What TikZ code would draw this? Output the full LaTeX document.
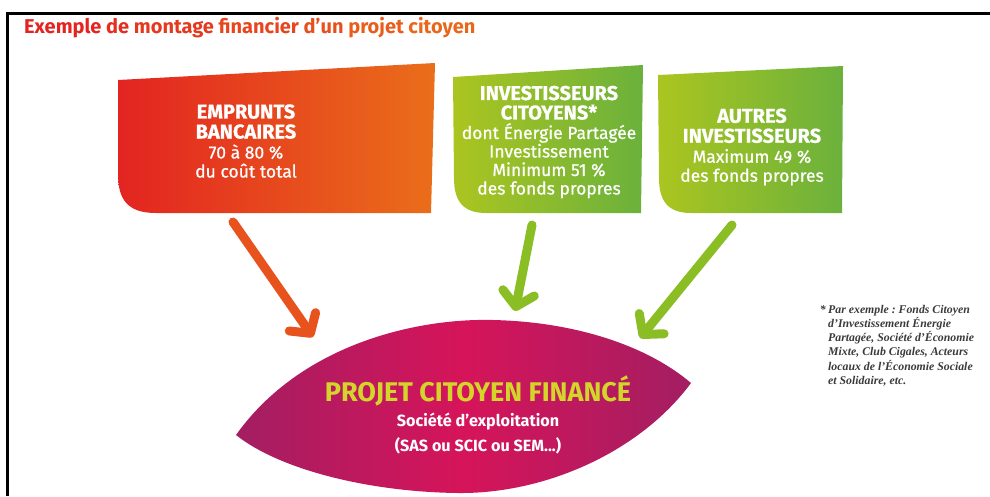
\documentclass[tikz,border=0pt]{standalone}
\usepackage{fontspec}
\setmainfont{Fira Sans}
\newfontfamily\bodyfont{Fira Sans}[FakeBold=0.7]
\newfontfamily\notefont{Liberation Serif}
\usetikzlibrary{arrows.meta, positioning}
\definecolor{bankred}{HTML}{E32421}
\definecolor{bankorange}{HTML}{EA6E1A}
\definecolor{limegreen}{HTML}{ABC520}
\definecolor{leafgreen}{HTML}{6BB13C}
\definecolor{lensedge}{HTML}{A31E62}
\definecolor{lensmid}{HTML}{D6145A}
\definecolor{lenstitle}{HTML}{D4D52A}
\definecolor{arroworange}{HTML}{E8521D}
\definecolor{arrowgreen}{HTML}{8BBE25}
\definecolor{notegray}{HTML}{3A3A3A}
\newcommand{\hd}{\fontsize{20}{21}\selectfont\bfseries}
\frenchspacing

\begin{document}
\begin{tikzpicture}[
  x=1pt, y=-1pt,
  boxtext/.style={text=white, align=center, inner sep=0pt,
                  font=\bodyfont\fontsize{17.5}{19}\selectfont},
  flow/.style={line width=9pt, line cap=round,
               -{Straight Barb[length=14pt, width=32pt, round]}},
  note/.style={text=notegray, align=left, inner sep=0pt,
               font=\notefont\bfseries\itshape\fontsize{11.8}{14.2}\selectfont},
]
\useasboundingbox (0,0) rectangle (990,496);

% Frame and title
\draw[line width=3pt] (990,13) -- (7,13) -- (7,496);
\node[anchor=base west, inner sep=0pt, font=\fontsize{20}{20}\selectfont\bfseries]
  (title) at (24,33) {\color{bankred}Exemple \color{bankred!85!bankorange}de
  \color{bankred!72!bankorange}montage \color{bankred!55!bankorange}financier
  \color{bankred!40!bankorange}d’un \color{bankred!25!bankorange}projet
  \color{bankred!10!bankorange}citoyen};

% Sources of funds
\shade[left color=bankred, right color=bankorange]
  (118,80) -- (435,63) -- (431,213) -- (156,213)
  .. controls (128,213) and (118,200) .. (118,174) -- cycle;
\shade[left color=limegreen, right color=leafgreen]
  (453,77) -- (643,65) -- (641,213) -- (486,213)
  .. controls (462,213) and (454,200) .. (454,178) -- cycle;
\shade[left color=limegreen, right color=leafgreen]
  (658,75) -- (843,66) -- (842,213) -- (691,213)
  .. controls (667,213) and (659,200) .. (659,178) -- cycle;

\node[boxtext] (emprunts) at (246,141)
  {\hd EMPRUNTS\\[1pt]\hd BANCAIRES\\[1pt]70 à 80 \%\\du coût total};
\node[boxtext, font=\bodyfont\fontsize{17.5}{18.5}\selectfont] (citoyens) at (549,142)
  {\hd INVESTISSEURS\\[1pt]\hd CITOYENS*\\[1pt]dont Énergie Partagée\\Investissement\\Minimum 51 \%\\des fonds propres};
\node[boxtext] (autres) at (752,147)
  {\hd AUTRES\\[1pt]\hd INVESTISSEURS\\[1pt]Maximum 49 \%\\des fonds propres};

% Financed project
\shade[left color=lensedge, right color=lensedge, middle color=lensmid]
  (236,435) .. controls (300,345) and (415,318) .. (493,320)
  .. controls (580,322) and (650,348) .. (691,383)
  .. controls (640,452) and (545,494) .. (458,493)
  .. controls (370,492) and (280,470) .. (236,435) -- cycle;
\node[align=center, inner sep=0pt, text=white,
      font=\fontsize{16.2}{25}\selectfont\bfseries] (projet) at (478,415)
  {\textcolor{lenstitle}{\fontsize{27}{25}\selectfont PROJET CITOYEN FINANCÉ}\\
   Société d’exploitation\\(SAS ou SCIC ou SEM...)};

% Arrows
\coordinate (e1) at (233,222);  \coordinate (p1) at (313,337);
\coordinate (e2) at (532,225);  \coordinate (p2) at (515,311);
\coordinate (e3) at (732,225);  \coordinate (p3) at (640,338);
\draw[flow, arroworange] (e1) -- (p1);
\draw[flow, arrowgreen]  (e2) -- (p2);
\draw[flow, arrowgreen]  (e3) -- (p3);

% Footnote
\node[note, anchor=north west] (note) at (828,305)
  {Par exemple : Fonds Citoyen\\d’Investissement Énergie\\Partagée, Société d’Économie\\Mixte, Club Cigales, Acteurs\\locaux de l’Économie Sociale\\et Solidaire, etc.};
\node[note, anchor=north east, inner xsep=2pt] (star) at (note.north west) {*};

\end{tikzpicture}
\end{document}
